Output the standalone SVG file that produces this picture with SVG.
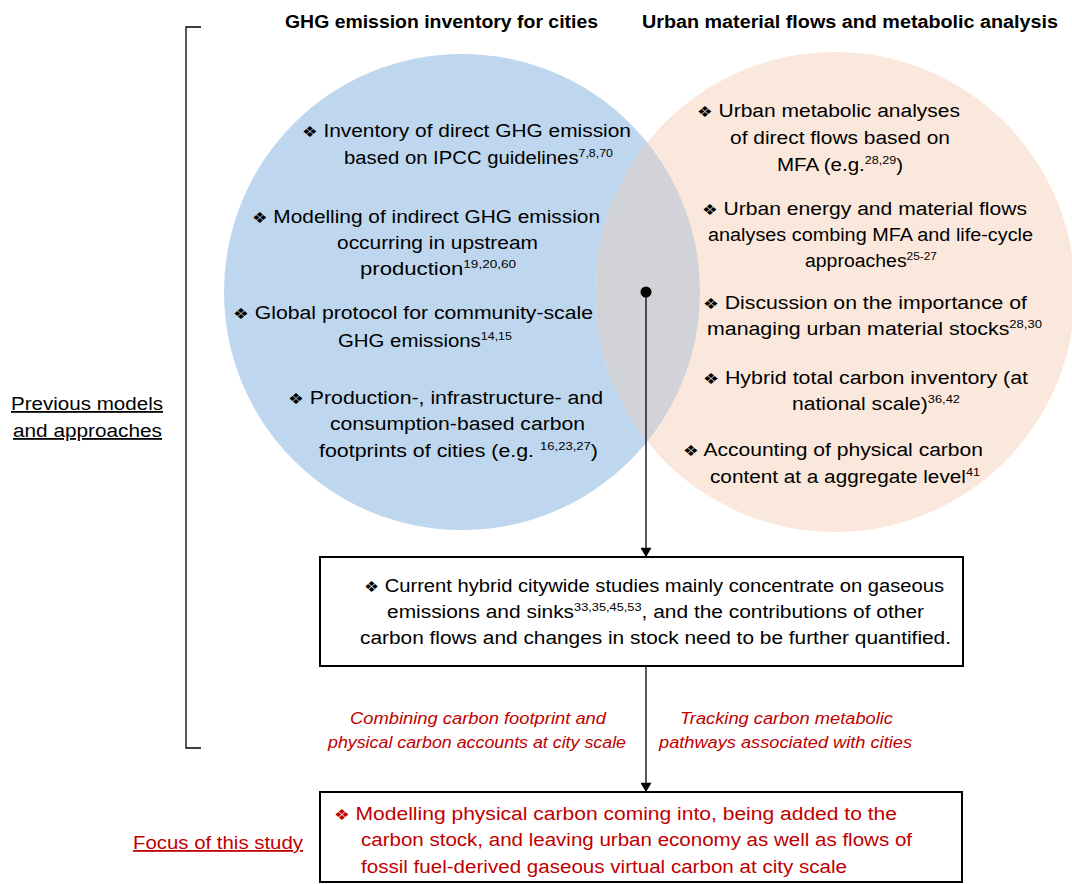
<svg xmlns="http://www.w3.org/2000/svg" width="1072" height="884" viewBox="0 0 1072 884">
<style>
text{font-family:"Liberation Sans",Arial,sans-serif;fill:#000;}
.t{font-size:18px;}
.h{font-size:18px;font-weight:bold;}
.b{font-family:"DejaVu Sans",sans-serif;font-size:15px;}
.s{font-size:11px;}
.red{fill:#C00000;}
.it{font-size:16px;font-style:italic;fill:#C00000;}
.ln{stroke:#000;stroke-width:1.3;fill:none;}
.box{fill:#fff;stroke:#000;stroke-width:2;}
</style>
<defs>
<clipPath id="blueClip"><circle cx="462" cy="292" r="238"/></clipPath>
<marker id="arr" viewBox="0 0 10 12" refX="10" refY="6" markerWidth="12" markerHeight="11" markerUnits="userSpaceOnUse" orient="auto"><path d="M0,0 L10,6 L0,12 z" fill="#000"/></marker>
</defs>

<g id="circles">
<circle id="blue" cx="462" cy="292" r="238" fill="#BED7EE"/>
<circle id="orange" cx="835" cy="292" r="240" fill="#FBE8DC"/>
<circle cx="835" cy="292" r="240" fill="#D1D3D8" clip-path="url(#blueClip)"/>
</g>

<g id="bracket"><path class="ln" d="M201,27 H186 V748 H201"/></g>

<g id="headings">
<text class="h" x="285" y="28" textLength="313" lengthAdjust="spacingAndGlyphs">GHG emission inventory for cities</text>
<text class="h" x="642" y="28" textLength="416" lengthAdjust="spacingAndGlyphs">Urban material flows and metabolic analysis</text>
</g>

<g id="left-label">
<text class="t" x="11" y="410" textLength="152" lengthAdjust="spacingAndGlyphs" text-decoration="underline">Previous models</text>
<text class="t" x="13" y="437" textLength="149" lengthAdjust="spacingAndGlyphs" text-decoration="underline">and approaches</text>
</g>

<g id="ghg-items">
<text class="t" x="302" y="137" textLength="329" lengthAdjust="spacingAndGlyphs"><tspan class="b">❖</tspan> Inventory of direct GHG emission</text>
<text class="t" x="344" y="164" textLength="269" lengthAdjust="spacingAndGlyphs">based on IPCC guidelines<tspan class="s" dy="-7">7,8,70</tspan></text>
<text class="t" x="252" y="223" textLength="348" lengthAdjust="spacingAndGlyphs"><tspan class="b">❖</tspan> Modelling of indirect GHG emission</text>
<text class="t" x="337" y="249" textLength="201" lengthAdjust="spacingAndGlyphs">occurring in upstream</text>
<text class="t" x="360" y="275" textLength="156" lengthAdjust="spacingAndGlyphs">production<tspan class="s" dy="-7">19,20,60</tspan></text>
<text class="t" x="233" y="319" textLength="360" lengthAdjust="spacingAndGlyphs"><tspan class="b">❖</tspan> Global protocol for community-scale</text>
<text class="t" x="338" y="347" textLength="174" lengthAdjust="spacingAndGlyphs">GHG emissions<tspan class="s" dy="-7">14,15</tspan></text>
<text class="t" x="288" y="404" textLength="315" lengthAdjust="spacingAndGlyphs"><tspan class="b">❖</tspan> Production-, infrastructure- and</text>
<text class="t" x="330" y="430" textLength="255" lengthAdjust="spacingAndGlyphs">consumption-based carbon</text>
<text class="t" x="319" y="457" textLength="279" lengthAdjust="spacingAndGlyphs">footprints of cities (e.g. <tspan class="s" dy="-7">16,23,27</tspan><tspan dy="7">)</tspan></text>
</g>

<g id="mfa-items">
<text class="t" x="697" y="117" textLength="263" lengthAdjust="spacingAndGlyphs"><tspan class="b">❖</tspan> Urban metabolic analyses</text>
<text class="t" x="730" y="144" textLength="220" lengthAdjust="spacingAndGlyphs">of direct flows based on</text>
<text class="t" x="777" y="171" textLength="126" lengthAdjust="spacingAndGlyphs">MFA (e.g.<tspan class="s" dy="-7">28,29</tspan><tspan dy="7">)</tspan></text>
<text class="t" x="702" y="215" textLength="325" lengthAdjust="spacingAndGlyphs"><tspan class="b">❖</tspan> Urban energy and material flows</text>
<text class="t" x="708" y="241" textLength="325" lengthAdjust="spacingAndGlyphs">analyses combing MFA and life-cycle</text>
<text class="t" x="805" y="267" textLength="132" lengthAdjust="spacingAndGlyphs">approaches<tspan class="s" dy="-7">25-27</tspan></text>
<text class="t" x="703" y="309" textLength="324" lengthAdjust="spacingAndGlyphs"><tspan class="b">❖</tspan> Discussion on the importance of</text>
<text class="t" x="707" y="335" textLength="335" lengthAdjust="spacingAndGlyphs">managing urban material stocks<tspan class="s" dy="-7">28,30</tspan></text>
<text class="t" x="703" y="384" textLength="325" lengthAdjust="spacingAndGlyphs"><tspan class="b">❖</tspan> Hybrid total carbon inventory (at</text>
<text class="t" x="792" y="410" textLength="168" lengthAdjust="spacingAndGlyphs">national scale)<tspan class="s" dy="-7">36,42</tspan></text>
<text class="t" x="683" y="456" textLength="300" lengthAdjust="spacingAndGlyphs"><tspan class="b">❖</tspan> Accounting of physical carbon</text>
<text class="t" x="710" y="483" textLength="270" lengthAdjust="spacingAndGlyphs">content at a aggregate level<tspan class="s" dy="-7">41</tspan></text>
</g>

<g id="connectors">
<circle cx="646" cy="292" r="5.5" fill="#000"/>
<line class="ln" x1="646" y1="292" x2="646" y2="557" marker-end="url(#arr)"/>
<line class="ln" x1="646" y1="666" x2="646" y2="792" marker-end="url(#arr)"/>
</g>

<g id="current-box">
<rect class="box" x="320" y="557" width="643" height="109"/>
<text class="t" x="364" y="592" textLength="580" lengthAdjust="spacingAndGlyphs"><tspan class="b">❖</tspan> Current hybrid citywide studies mainly concentrate on gaseous</text>
<text class="t" x="387" y="618" textLength="537" lengthAdjust="spacingAndGlyphs">emissions and sinks<tspan class="s" dy="-7">33,35,45,53</tspan><tspan dy="7">, and the contributions of other</tspan></text>
<text class="t" x="360" y="644" textLength="591" lengthAdjust="spacingAndGlyphs">carbon flows and changes in stock need to be further quantified.</text>
</g>

<g id="pathway-labels">
<text class="it" x="350" y="724" textLength="256" lengthAdjust="spacingAndGlyphs">Combining carbon footprint and</text>
<text class="it" x="328" y="748" textLength="298" lengthAdjust="spacingAndGlyphs">physical carbon accounts at city scale</text>
<text class="it" x="680" y="724" textLength="213" lengthAdjust="spacingAndGlyphs">Tracking carbon metabolic</text>
<text class="it" x="659" y="748" textLength="253" lengthAdjust="spacingAndGlyphs">pathways associated with cities</text>
</g>

<g id="focus-label">
<text class="t red" x="133" y="849" textLength="170" lengthAdjust="spacingAndGlyphs" text-decoration="underline">Focus of this study</text>
</g>

<g id="focus-box">
<rect class="box" x="320" y="792" width="642" height="90"/>
<text class="t red" x="334" y="820" textLength="563" lengthAdjust="spacingAndGlyphs"><tspan class="b red">❖</tspan> Modelling physical carbon coming into, being added to the</text>
<text class="t red" x="361" y="846" textLength="551" lengthAdjust="spacingAndGlyphs">carbon stock, and leaving urban economy as well as flows of</text>
<text class="t red" x="361" y="873" textLength="486" lengthAdjust="spacingAndGlyphs">fossil fuel-derived gaseous virtual carbon at city scale</text>
</g>
</svg>
